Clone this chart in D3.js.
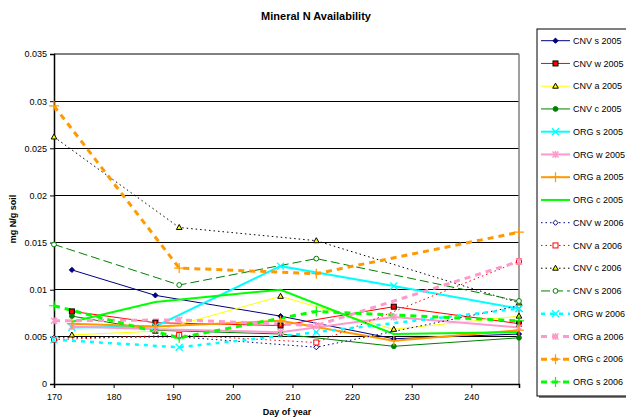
<!DOCTYPE html>
<html><head><meta charset="utf-8">
<script src="https://cdn.jsdelivr.net/npm/d3@7"></script>
<style>body{margin:0;background:#fff;}svg{font-family:"Liberation Sans",Arial,sans-serif;}</style>
</head><body><svg id="c" width="626" height="419"></svg>
<script>
const days2005 = [173, 187, 208, 227, 248];
const days2006 = [170, 191, 214, 248];
const cnvS05 = [0.0121, 0.0094, 0.0072, 0.0048, 0.0053];
const cnvW05 = [0.0077, 0.0065, 0.0062, 0.0082, 0.0064];
const cnvA05 = [0.0052, 0.0056, 0.0093, 0.0058, 0.0072];
const cnvC05 = [0.0072, 0.0057, 0.0053, 0.0040, 0.0049];
const orgS05 = [0.0060, 0.0061, 0.0125, 0.0104, 0.0080];
const orgW05 = [0.0061, 0.0058, 0.0055, 0.0071, 0.0060];
const orgA05 = [0.0064, 0.0061, 0.0067, 0.0046, 0.0057];
const orgC05 = [0.0066, 0.0087, 0.0100, 0.0053, 0.0055];
const cnvW06 = [0.0049, 0.0050, 0.0039, 0.0083];
const cnvA06 = [0.0047, 0.0052, 0.0044, 0.0130];
const cnvC06 = [0.0262, 0.0166, 0.0152, 0.0086];
const cnvS06 = [0.0148, 0.0105, 0.0133, 0.0088];
const orgW06 = [0.0047, 0.0039, 0.0055, 0.0080];
const orgA06 = [0.0067, 0.0068, 0.0062, 0.0130];
const orgC06 = [0.0295, 0.0123, 0.0117, 0.0161];
const orgS06 = [0.0083, 0.0049, 0.0077, 0.0067];
const xTicks = [170, 180, 190, 200, 210, 220, 230, 240];
const yTicks = [0, 0.005, 0.01, 0.015, 0.02, 0.025, 0.03, 0.035];
const yTickLabels = ["0", "0.005", "0.01", "0.015", "0.02", "0.025", "0.03", "0.035"];

const series = [
 {name:"CNV s 2005", days:days2005, vals:cnvS05, color:"#000080", w:1, dash:null, m:"diamond", mf:"#000080", ms:"#000080"},
 {name:"CNV w 2005", days:days2005, vals:cnvW05, color:"#FF0000", w:1, dash:null, m:"square", mf:"#FF0000", ms:"#000000"},
 {name:"CNV a 2005", days:days2005, vals:cnvA05, color:"#FFFF00", w:1, dash:null, m:"triangle", mf:"#FFFF00", ms:"#000000"},
 {name:"CNV c 2005", days:days2005, vals:cnvC05, color:"#008000", w:1, dash:null, m:"circle", mf:"#008000", ms:"#008000"},
 {name:"ORG s 2005", days:days2005, vals:orgS05, color:"#00FFFF", w:2, dash:null, m:"x", mf:"none", ms:"#00FFFF"},
 {name:"ORG w 2005", days:days2005, vals:orgW05, color:"#FF99CC", w:2, dash:null, m:"star", mf:"none", ms:"#FF99CC"},
 {name:"ORG a 2005", days:days2005, vals:orgA05, color:"#FF9900", w:2, dash:null, m:"plus", mf:"none", ms:"#FF9900"},
 {name:"ORG c 2005", days:days2005, vals:orgC05, color:"#00FF00", w:2, dash:null, m:"none", mf:"none", ms:"#00FF00"},
 {name:"CNV w 2006", days:days2006, vals:cnvW06, color:"#000080", w:1, dash:"1.5,3", m:"diamond", mf:"#FFFFFF", ms:"#000080"},
 {name:"CNV a 2006", days:days2006, vals:cnvA06, color:"#FF0000", w:1, dash:"1.5,3", m:"square", mf:"#FFFFFF", ms:"#FF0000"},
 {name:"CNV c 2006", days:days2006, vals:cnvC06, color:"#000000", w:1, dash:"1.5,3", m:"triangle", mf:"#FFFF00", ms:"#000000"},
 {name:"CNV s 2006", days:days2006, vals:cnvS06, color:"#008000", w:1, dash:"9,4", m:"circle", mf:"#FFFFFF", ms:"#008000"},
 {name:"ORG w 2006", days:days2006, vals:orgW06, color:"#00FFFF", w:2.5, dash:"4,5", m:"x", mf:"none", ms:"#00FFFF"},
 {name:"ORG a 2006", days:days2006, vals:orgA06, color:"#FF99CC", w:3, dash:"6,5", m:"star", mf:"none", ms:"#FF99CC"},
 {name:"ORG c 2006", days:days2006, vals:orgC06, color:"#FF9900", w:3, dash:"6,5", m:"plus", mf:"none", ms:"#FF9900"},
 {name:"ORG s 2006", days:days2006, vals:orgS06, color:"#00FF00", w:3, dash:"6,5", m:"plus", mf:"none", ms:"#00FF00"}
];

const svg = d3.select("#c");
const L = 54, R = 519, T = 54, B = 384;
const x = d3.scaleLinear().domain([170, 248]).range([L, R]);
const y = d3.scaleLinear().domain([0, 0.035]).range([B, T]);

svg.append("text").attr("x", 316).attr("y", 20).attr("text-anchor", "middle")
  .attr("font-size", 11).attr("font-weight", "bold").text("Mineral N Availability");

svg.append("g").selectAll("line").data(yTicks.slice(1)).join("line")
  .attr("x1", L).attr("x2", R).attr("y1", d => y(d)).attr("y2", d => y(d))
  .attr("stroke", d => d === 0.035 ? "#808080" : "#000").attr("stroke-width", d => d === 0.035 ? 1.5 : 1)
  .attr("shape-rendering", "crispEdges");
svg.append("line").attr("x1", R).attr("x2", R).attr("y1", T).attr("y2", B)
  .attr("stroke", "#808080").attr("stroke-width", 1.5);

const yAxis = d3.axisLeft(y).tickValues(yTicks).tickFormat((d, i) => yTickLabels[i]).tickSize(4).tickPadding(3);
const gy = svg.append("g").attr("transform", `translate(${L},0)`).call(yAxis);
const xAxis = d3.axisBottom(x).tickValues(xTicks).tickFormat(d3.format("d")).tickSize(4).tickPadding(6);
const gx = svg.append("g").attr("transform", `translate(0,${B})`).call(xAxis);
[gx, gy].forEach(g => {
  g.select(".domain").attr("stroke", "#000").attr("stroke-width", 1.5);
  g.selectAll(".tick line").attr("stroke", "#000");
  g.selectAll(".tick text").attr("font-size", 9).attr("fill", "#000").attr("font-family", "Liberation Sans, Arial, sans-serif");
});

svg.append("text").attr("x", 287).attr("y", 415).attr("text-anchor", "middle")
  .attr("font-size", 9).attr("font-weight", "bold").text("Day of year");
svg.append("text").attr("transform", "translate(16,219) rotate(-90)").attr("text-anchor", "middle")
  .attr("font-size", 9).attr("font-weight", "bold").text("mg N/g soil");

function marker(g, type, cx, cy, fill, stroke) {
  if (type === "diamond") {
    const s = 2.6;
    g.append("path").attr("d", `M${cx},${cy-s}L${cx+s},${cy}L${cx},${cy+s}L${cx-s},${cy}Z`).attr("fill", fill).attr("stroke", stroke).attr("stroke-width", 1);
  } else if (type === "square") {
    g.append("rect").attr("x", cx-2.5).attr("y", cy-2.5).attr("width", 5).attr("height", 5).attr("fill", fill).attr("stroke", stroke).attr("stroke-width", 1);
  } else if (type === "triangle") {
    g.append("path").attr("d", `M${cx},${cy-3}L${cx+2.8},${cy+2}L${cx-2.8},${cy+2}Z`).attr("fill", fill).attr("stroke", stroke).attr("stroke-width", 1);
  } else if (type === "circle") {
    g.append("circle").attr("cx", cx).attr("cy", cy).attr("r", 2.4).attr("fill", fill).attr("stroke", stroke).attr("stroke-width", 1);
  } else if (type === "x") {
    g.append("path").attr("d", `M${cx-3.5},${cy-3.5}L${cx+3.5},${cy+3.5}M${cx-3.5},${cy+3.5}L${cx+3.5},${cy-3.5}`).attr("stroke", stroke).attr("stroke-width", 1.3).attr("fill", "none");
  } else if (type === "star") {
    g.append("path").attr("d", `M${cx-3},${cy-3}L${cx+3},${cy+3}M${cx-3},${cy+3}L${cx+3},${cy-3}M${cx},${cy-3.5}L${cx},${cy+3.5}`).attr("stroke", stroke).attr("stroke-width", 1.5).attr("fill", "none");
  } else if (type === "plus") {
    g.append("path").attr("d", `M${cx-5},${cy}L${cx+5},${cy}M${cx},${cy-5}L${cx},${cy+5}`).attr("stroke", stroke).attr("stroke-width", 1.2).attr("fill", "none");
  }
}

const line = d3.line().x(d => x(d[0])).y(d => y(d[1]));
const plot = svg.append("g");
series.forEach(s => {
  const pts = s.days.map((d, i) => [d, s.vals[i]]);
  plot.append("path").datum(pts).attr("d", line).attr("fill", "none")
    .attr("stroke", s.color).attr("stroke-width", s.w).attr("stroke-dasharray", s.dash);
});
series.forEach(s => {
  const mg = plot.append("g");
  s.days.forEach((d, i) => marker(mg, s.m, x(d), y(s.vals[i]), s.mf, s.ms));
});

const lg = svg.append("g");
lg.append("rect").attr("x", 539).attr("y", 31).attr("width", 100).attr("height", 367).attr("fill", "#808080");
lg.append("rect").attr("x", 537).attr("y", 29).attr("width", 100).attr("height", 367).attr("fill", "#fff").attr("stroke", "#000").attr("stroke-width", 1);
series.forEach((s, i) => {
  const yy = 40.7 + i * 22.75;
  lg.append("line").attr("x1", 541).attr("x2", 570).attr("y1", yy).attr("y2", yy)
    .attr("stroke", s.color).attr("stroke-width", s.w).attr("stroke-dasharray", s.dash);
  marker(lg, s.m, 555.5, yy, s.mf, s.ms);
  lg.append("text").attr("x", 573).attr("y", yy + 3.2).attr("font-size", 9).attr("fill", "#000").text(s.name);
});
</script></body></html>
